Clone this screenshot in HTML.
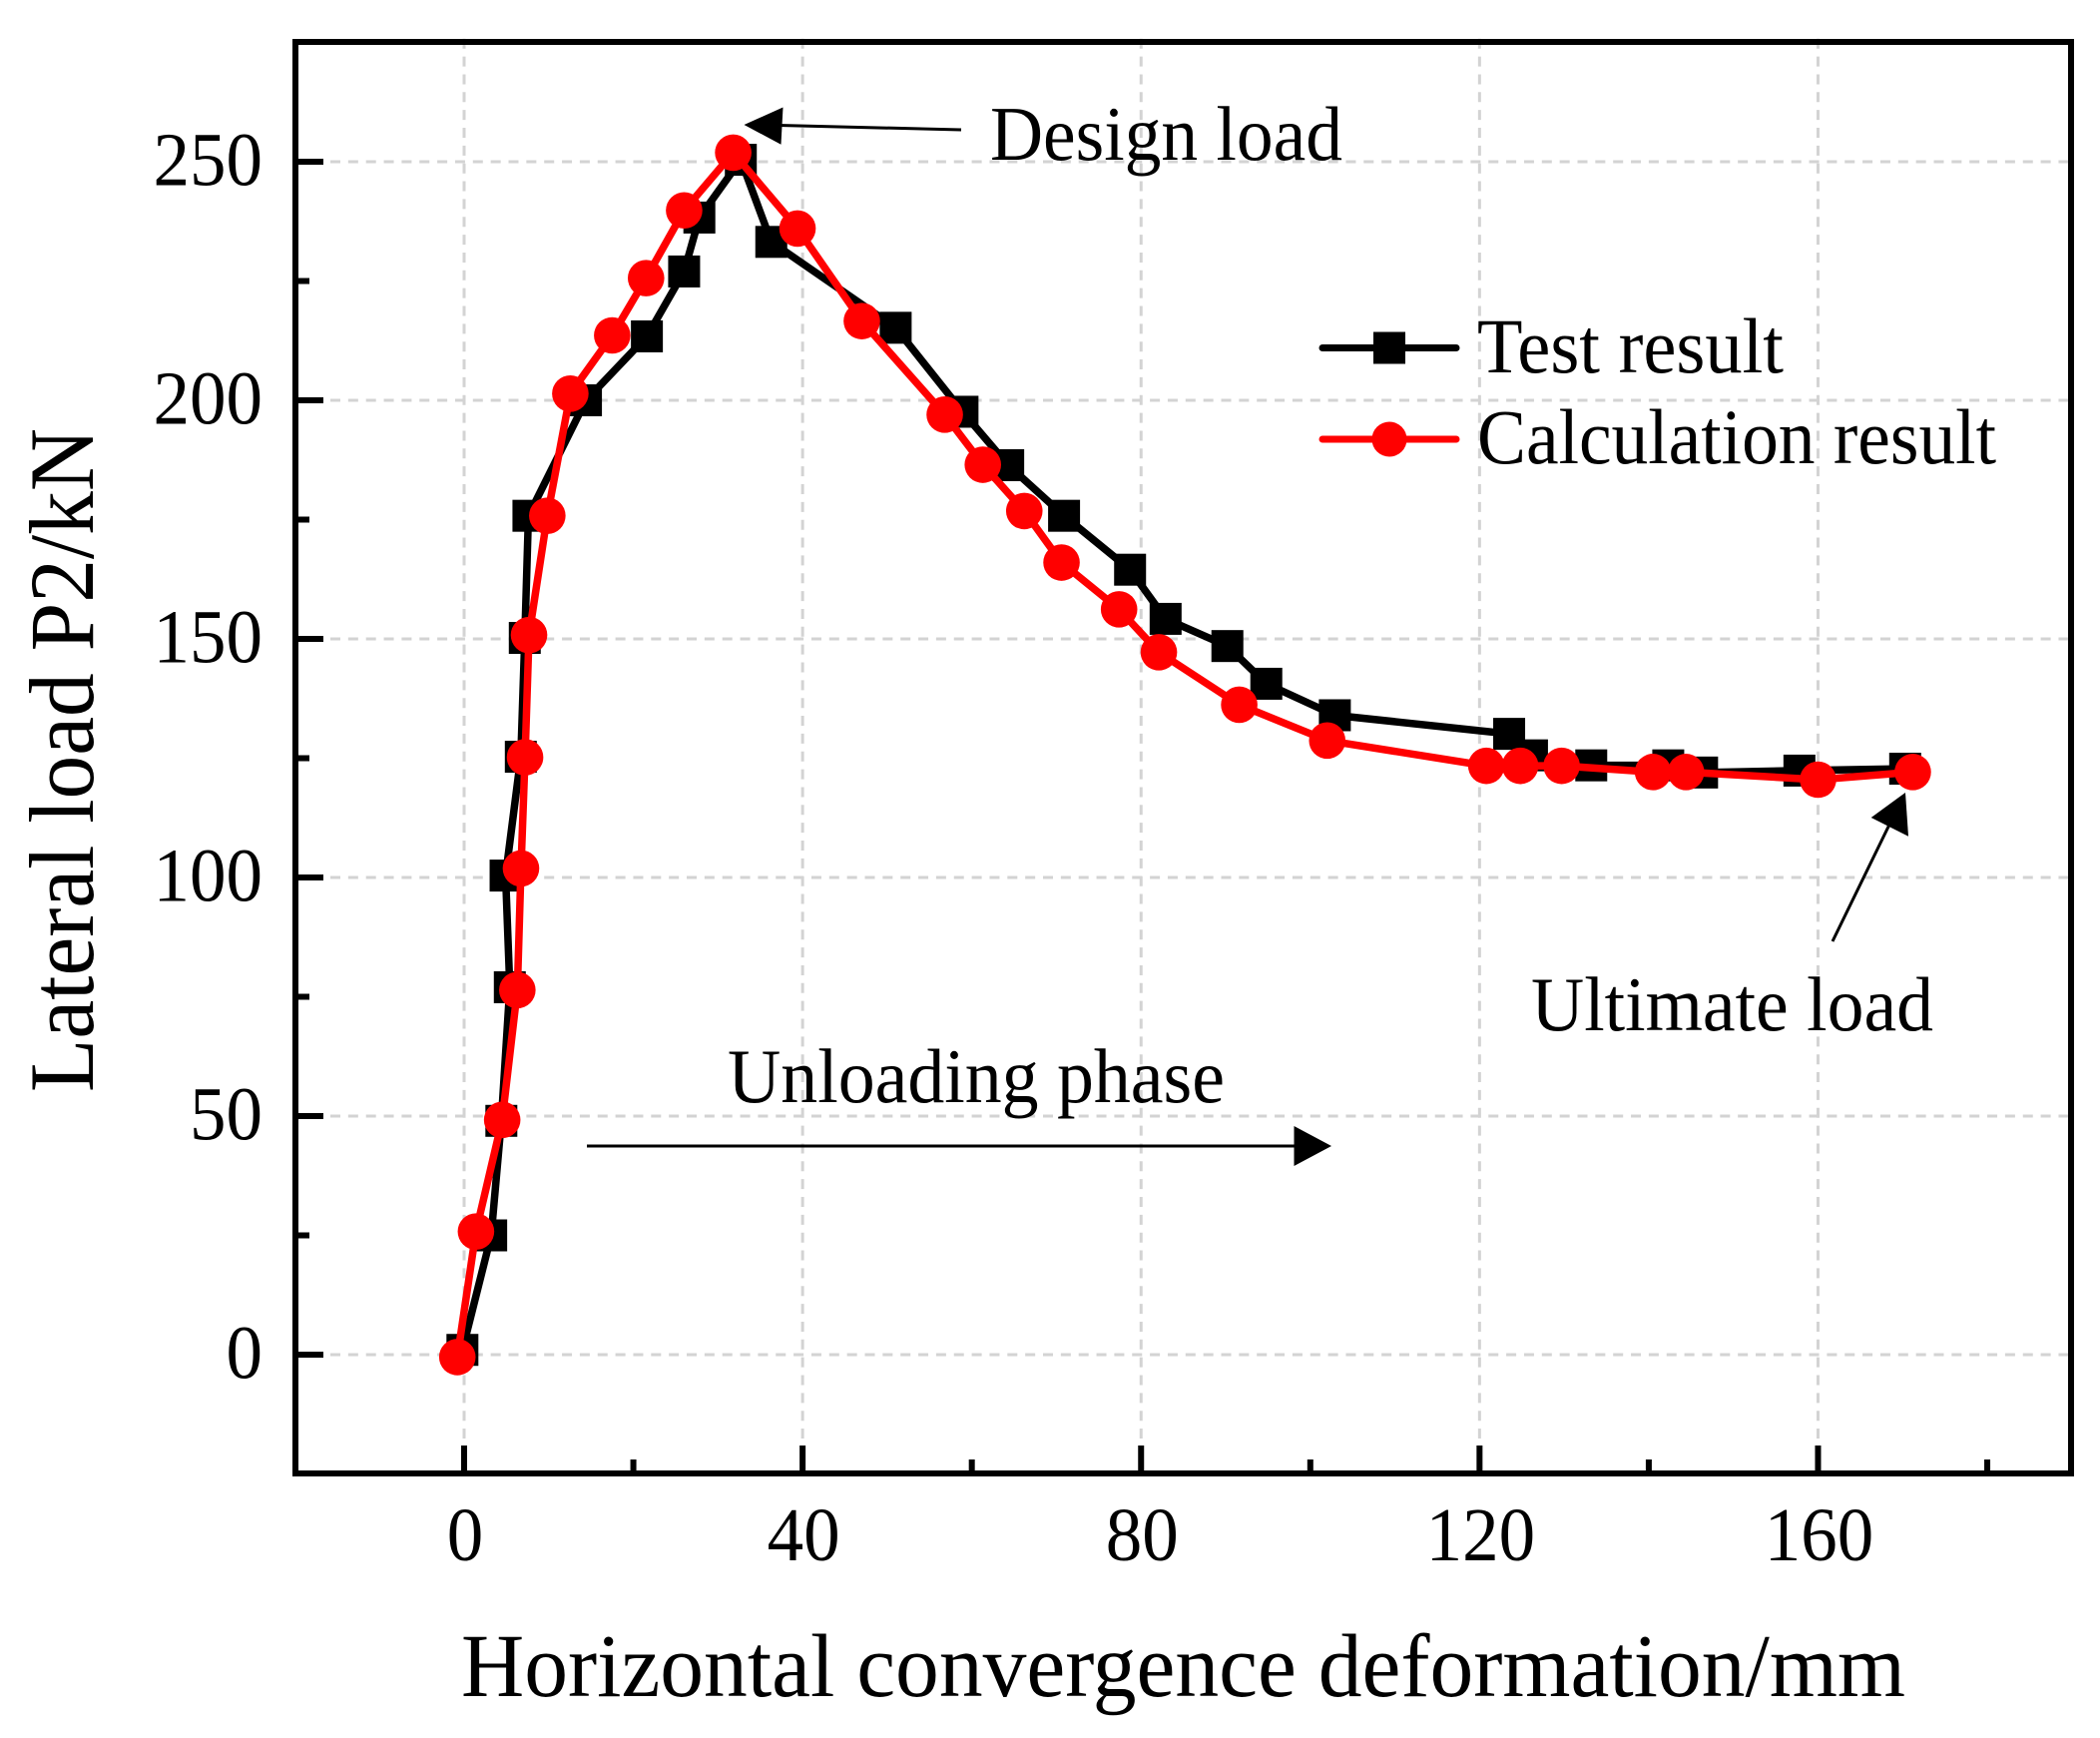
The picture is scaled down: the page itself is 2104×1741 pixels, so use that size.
<!DOCTYPE html>
<html lang="en">
<head>
<meta charset="utf-8">
<title>Lateral load vs horizontal convergence deformation</title>
<style>
html,body{margin:0;padding:0;background:#fff;}
svg{display:block;}
text{font-family:"Liberation Serif",serif;fill:#000;}
</style>
</head>
<body>
<svg id="chart" xmlns="http://www.w3.org/2000/svg" width="2104" height="1741" viewBox="0 0 2104 1741">
  <rect x="0" y="0" width="2104" height="1741" fill="#fff"/>
  <g id="grid"></g>
  <g id="ticks"></g>
  <g id="tick-labels"></g>
  <g id="series"></g>
  <rect x="296" y="42" width="1779" height="1434" fill="none" stroke="#000" stroke-width="6"/>

  <text x="462" y="1699" font-size="90" textLength="1447" lengthAdjust="spacingAndGlyphs">Horizontal convergence deformation/mm</text>
  <text transform="translate(93,1094) rotate(-90)" font-size="92" textLength="665" lengthAdjust="spacingAndGlyphs">Lateral load P2/kN</text>

  <g>
    <g>
      <line x1="1325" y1="348.5" x2="1459" y2="348.5" stroke="#000" stroke-width="7" stroke-linecap="round"/>
      <rect x="1376" y="332.5" width="32" height="32" fill="#000"/>
      <text x="1480" y="373" font-size="78" textLength="307" lengthAdjust="spacingAndGlyphs">Test result</text>
    </g>
    <g>
      <line x1="1325" y1="440" x2="1459" y2="440" stroke="#f00" stroke-width="7" stroke-linecap="round"/>
      <circle cx="1392" cy="440" r="17.5" fill="#f00"/>
      <text x="1480" y="464" font-size="78" textLength="520" lengthAdjust="spacingAndGlyphs">Calculation result</text>
    </g>
  </g>

  <g>
    <line x1="963" y1="130" x2="780" y2="125.5" stroke="#000" stroke-width="3"/>
    <polygon points="745.5,125 784.5,107.5 782.5,144.7" fill="#000"/>
    <text x="992" y="160" font-size="77" textLength="353" lengthAdjust="spacingAndGlyphs">Design load</text>
  </g>
  <g>
    <line x1="1836" y1="943" x2="1893" y2="826" stroke="#000" stroke-width="3"/>
    <polygon points="1909,794 1874.7,819 1912,837.7" fill="#000"/>
    <text x="1534" y="1032" font-size="77" textLength="403" lengthAdjust="spacingAndGlyphs">Ultimate load</text>
  </g>
  <g>
    <line x1="588" y1="1148" x2="1300" y2="1148" stroke="#000" stroke-width="3"/>
    <polygon points="1334,1148 1296.5,1128 1296.5,1168" fill="#000"/>
    <text x="729" y="1104" font-size="77" textLength="498" lengthAdjust="spacingAndGlyphs">Unloading phase</text>
  </g>
</svg>
<script>
const xMajorTicks = [0, 40, 80, 120, 160];
const xMinorTicks = [20, 60, 100, 140, 180];
const yMajorTicks = [0, 50, 100, 150, 200, 250];
const yMinorTicks = [25, 75, 125, 175, 225];

const testX = [-0.2, 3.2, 4.4, 5.4, 4.9, 6.7, 7.17, 7.6, 14.4, 21.6, 26, 27.8, 32.7, 36.3, 51, 58.9, 64.3, 70.9, 78.7, 82.9, 90.2, 94.8, 102.9, 123.5, 126.2, 133.2, 142.3, 146.3, 157.8, 170.3];
const testY = [1, 25, 49, 77, 100.4, 125.3, 150.2, 175.8, 200, 213.4, 227, 238.3, 250.4, 233.2, 215.2, 197.6, 186.4, 175.8, 164.5, 154.2, 148.5, 140.6, 134, 130.1, 125.6, 123.5, 123.5, 122, 122.4, 122.8];

const calcX = [-0.8, 1.4, 4.5, 6.29, 6.72, 7.2, 7.67, 9.83, 12.55, 17.5, 21.5, 26, 31.8, 39.4, 47, 56.8, 61.3, 66.2, 70.6, 77.4, 82.1, 91.6, 102, 120.8, 124.8, 129.7, 140.5, 144.4, 160, 171.2];
const calcY = [-0.5, 25.8, 49.2, 76.4, 101.9, 125.2, 150.8, 175.8, 201.4, 213.6, 225.6, 239.8, 251.9, 236, 216.6, 197, 186.5, 176.8, 166, 156.2, 147.2, 136.2, 128.7, 123.4, 123.4, 123.4, 122.1, 122.1, 120.5, 122.1];

const SVGNS = 'http://www.w3.org/2000/svg';
const PLOT = { left: 296, right: 2075, top: 42, bottom: 1476 };
function sx(v) { return 465 + v * 8.478; }
function sy(v) { return 1357 - v * 4.78; }

function make(tag, attrs, parent) {
  const el = document.createElementNS(SVGNS, tag);
  for (const k in attrs) el.setAttribute(k, attrs[k]);
  parent.appendChild(el);
  return el;
}

const grid = document.getElementById('grid');
const ticks = document.getElementById('ticks');
const labels = document.getElementById('tick-labels');
const series = document.getElementById('series');
const gridStyle = { stroke: '#d3d3d3', 'stroke-width': 3, 'stroke-dasharray': '10 7.85', fill: 'none' };

xMajorTicks.forEach(function (v) {
  const g = make('line', Object.assign({ x1: sx(v), x2: sx(v), y1: 38.75, y2: 1448 }, gridStyle), grid);
  
  
  const t = make('line', { x1: sx(v), x2: sx(v), y1: PLOT.bottom, y2: PLOT.bottom - 28, stroke: '#000', 'stroke-width': 6 }, ticks);
  
  
  const l = make('text', { x: sx(v) + 1, y: 1563, 'font-size': 76, 'text-anchor': 'middle', textLength: String(v).length * 36.5, lengthAdjust: 'spacingAndGlyphs' }, labels);
  
  
  l.textContent = String(v);
});
xMinorTicks.forEach(function (v) {
  const t = make('line', { x1: sx(v), x2: sx(v), y1: PLOT.bottom, y2: PLOT.bottom - 14, stroke: '#000', 'stroke-width': 6 }, ticks);
  
  
});
yMajorTicks.forEach(function (v) {
  const g = make('line', Object.assign({ x1: 331, x2: PLOT.right, y1: sy(v), y2: sy(v) }, gridStyle), grid);
  
  
  const t = make('line', { x1: PLOT.left, x2: PLOT.left + 28, y1: sy(v), y2: sy(v), stroke: '#000', 'stroke-width': 6 }, ticks);
  
  
  const l = make('text', { x: 263, y: sy(v) + 23.5, 'font-size': 76, 'text-anchor': 'end', textLength: String(v).length * 36.5, lengthAdjust: 'spacingAndGlyphs' }, labels);
  
  
  l.textContent = String(v);
});
yMinorTicks.forEach(function (v) {
  const t = make('line', { x1: PLOT.left, x2: PLOT.left + 14, y1: sy(v), y2: sy(v), stroke: '#000', 'stroke-width': 6 }, ticks);
  
  
});

const testLine = make('polyline', {
  points: testX.map(function (x, i) { return sx(x) + ',' + sy(testY[i]); }).join(' '),
  fill: 'none', stroke: '#000', 'stroke-width': 7.5, 'stroke-linejoin': 'round'
}, series);


testX.forEach(function (x, i) {
  const m = make('rect', { x: sx(x) - 16, y: sy(testY[i]) - 16, width: 32, height: 32, fill: '#000' }, series);
  
  
});

const calcLine = make('polyline', {
  points: calcX.map(function (x, i) { return sx(x) + ',' + sy(calcY[i]); }).join(' '),
  fill: 'none', stroke: '#f00', 'stroke-width': 7.5, 'stroke-linejoin': 'round'
}, series);


calcX.forEach(function (x, i) {
  const m = make('circle', { cx: sx(x), cy: sy(calcY[i]), r: 18.3, fill: '#f00' }, series);
  
  
});
</script>
</body>
</html>
